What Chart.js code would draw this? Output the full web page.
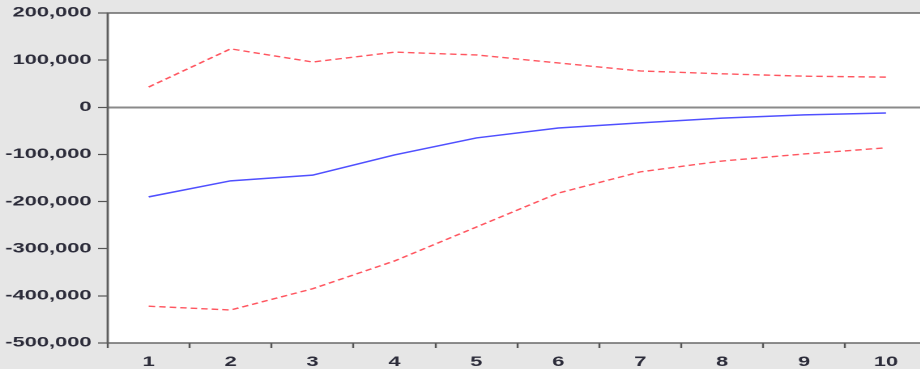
<!DOCTYPE html>
<html><head><meta charset="utf-8">
<script src="https://cdn.jsdelivr.net/npm/chart.js@4.4.0/dist/chart.umd.min.js"></script>
<style>
html,body{margin:0;padding:0;overflow:hidden;background:#e6e6e6;width:920px;height:369px;}
#wrap{width:576px;height:369px;transform:scaleX(1.62);transform-origin:0 0;}
</style></head><body>
<div id="wrap"><canvas id="c"></canvas></div>
<script>
// Data
const periods = ['1','2','3','4','5','6','7','8','9','10'];
const response = [-190000, -156000, -144000, -101000, -65000, -44000, -33000, -23000, -16000, -12000];
const upperBand = [43000, 124000, 96000, 117000, 111000, 94000, 77000, 71000, 66000, 64000];
const lowerBand = [-422000, -430000, -385000, -326000, -254000, -182000, -137000, -114000, -99000, -86000];
const yMin = -500000, yMax = 200000, yStep = 100000;

const textColor = '#2c2c3a';
const font = {family: '"Liberation Sans", Arial, sans-serif', size: 13.5, weight: 'bold'};

const framePlugin = {
  id: 'frame',
  beforeDraw(chart) {
    const {ctx, chartArea: a} = chart;
    ctx.save();
    ctx.fillStyle = '#ffffff';
    ctx.fillRect(a.left, a.top, a.right - a.left, a.bottom - a.top);
    ctx.restore();
  },
  afterDraw(chart) {
    const {ctx, chartArea: a} = chart;
    ctx.save();
    ctx.strokeStyle = '#5e5e5e';
    ctx.lineWidth = 1.4;
    ctx.strokeRect(a.left, a.top, a.right - a.left, a.bottom - a.top);
    ctx.restore();
  }
};

const canvas = document.getElementById('c');
canvas.width = 576; canvas.height = 369;
canvas.style.width = '576px'; canvas.style.height = '369px';

new Chart(canvas, {
  type: 'line',
  data: {
    labels: periods,
    datasets: [
      {data: upperBand, borderColor: 'rgb(255,85,95)', borderWidth: 1.4, borderDash: [4, 2.5], pointRadius: 0, tension: 0, fill: false},
      {data: lowerBand, borderColor: 'rgb(255,85,95)', borderWidth: 1.4, borderDash: [4, 2.5], pointRadius: 0, tension: 0, fill: false},
      {data: response, borderColor: 'rgb(80,80,255)', borderWidth: 1.5, pointRadius: 0, tension: 0, fill: false}
    ]
  },
  options: {
    responsive: false,
    devicePixelRatio: 2,
    animation: false,
    layout: {padding: {top: 13, right: 3.8, left: 0, bottom: 0}},
    plugins: {legend: {display: false}, tooltip: {enabled: false}},
    scales: {
      x: {
        type: 'category',
        offset: true,
        grid: {offset: true, drawOnChartArea: false, drawTicks: true, tickLength: 5, tickColor: '#555', tickWidth: 1.2},
        border: {display: false},
        ticks: {font: font, color: textColor, padding: 6, maxRotation: 0, autoSkip: false},
        afterFit(s) { s.height = 26; }
      },
      y: {
        min: yMin, max: yMax,
        grid: {
          drawOnChartArea: true,
          color: c => (c.tick && c.tick.value === 0) ? '#8a8a8a' : 'rgba(0,0,0,0)',
          lineWidth: c => (c.tick && c.tick.value === 0) ? 2 : 1,
          tickColor: '#555', tickLength: 6, tickWidth: 1.2
        },
        border: {display: false},
        ticks: {
          stepSize: yStep, font: font, color: textColor, padding: 4,
          callback: v => v.toLocaleString('en-US')
        },
        afterFit(s) { s.width = 66.5; }
      }
    }
  },
  plugins: [framePlugin]
});
</script>
</body></html>
